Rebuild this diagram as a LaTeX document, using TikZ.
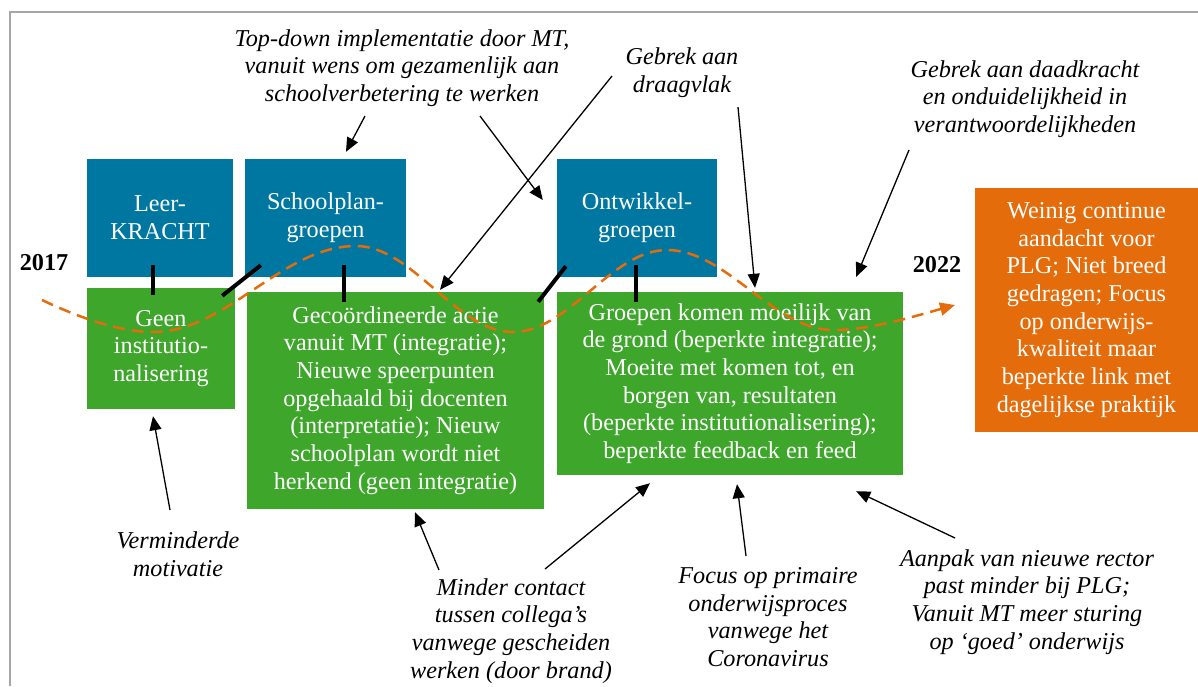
\documentclass[tikz,border=0pt]{standalone}
\usepackage{fontspec}
\setmainfont{Liberation Serif}
\usetikzlibrary{arrows.meta,calc}
\definecolor{tlblue}{HTML}{0077A1}
\definecolor{tlgreen}{HTML}{3DA62B}
\definecolor{tlorange}{HTML}{E46C0A}
\definecolor{framegray}{HTML}{A6A6A6}
\begin{document}
\begin{tikzpicture}[x=1pt,y=-1pt,
  boxtext/.style={inner sep=0pt, align=center, text=white,
    font=\fontsize{24.2}{27.7}\selectfont},
  phase/.style={boxtext, fill=tlblue},
  effect/.style={boxtext, fill=tlgreen},
  outcome/.style={boxtext, fill=tlorange},
  note/.style={inner sep=0pt, align=center,
    font=\itshape\fontsize{24.2}{27.7}\selectfont},
  year/.style={inner sep=0pt, font=\bfseries\fontsize{24.2}{27.7}\selectfont},
  link/.style={line width=4pt, black},
  cause/.style={line width=1.3pt, black, -{Triangle[length=14pt,width=12pt]}},
  wave/.style={line width=2.5pt, tlorange, dash pattern=on 12pt off 7pt,
    -{Triangle[length=15pt,width=13pt]}}
]
\useasboundingbox (0,0) rectangle (1198,686);
% frame
\draw[framegray, line width=1.8pt] (10,686) -- (10,12) -- (1198,12);

% phases
\node[phase, minimum width=146pt, minimum height=118pt] (leer) at (160,218) {Leer-\\KRACHT};
\node[phase, minimum width=161pt, minimum height=118pt] (school) at (325.5,218) {Schoolplan-\\groepen};
\node[phase, minimum width=160pt, minimum height=118pt] (ontw) at (637,218) {Ontwikkel-\\groepen};

% effects
\node[effect, minimum width=148pt, minimum height=121pt] (geen) at (161,348.5) {Geen\\institutio-\\nalisering};
\node[effect, minimum width=297pt, minimum height=217pt] (gecoord) at (395.5,400.5)
  {Gecoördineerde actie\\vanuit MT (integratie);\\Nieuwe speerpunten\\opgehaald bij docenten\\(interpretatie); Nieuw\\schoolplan wordt niet\\herkend (geen integratie)};
\node[effect, minimum width=346pt, minimum height=183pt] (groepen) at (730,383.5)
  {Groepen komen moeilijk van\\de grond (beperkte integratie);\\Moeite met komen tot, en\\borgen van, resultaten\\(beperkte institutionalisering);\\beperkte feedback en feed};

% outcome
\node[outcome, minimum width=223pt, minimum height=244pt] (weinig) at (1086.5,310)
  {Weinig continue\\aandacht voor\\PLG; Niet breed\\gedragen; Focus\\op onderwijs-\\kwaliteit maar\\beperkte link met\\dagelijkse praktijk};

% years
\node[year] (y2017) at (44,263) {2017};
\node[year] (y2022) at (937,265) {2022};

% time line
\draw[wave] (42,300) .. controls (80,318) and (120,332) .. (153,332)
  .. controls (227,332) and (282,246) .. (356,246)
  .. controls (413,246) and (456,332) .. (513,332)
  .. controls (569,332) and (611,250) .. (667,250)
  .. controls (727,250) and (773,330) .. (833,330)
  .. controls (870,330) and (912,317) .. (955,305);

% links between phases and effects
\draw[link] ([xshift=-7pt,yshift=12pt]leer.south) -- ([xshift=-8pt,yshift=-7pt]geen.north);
\draw[link] ([xshift=18.5pt,yshift=12pt]school.south) -- ([xshift=-51.5pt,yshift=-10pt]gecoord.north);
\draw[link] ([xshift=16pt,yshift=12pt]school.south west) -- ([xshift=-13pt,yshift=-8pt]geen.north east);
\draw[link] ([xshift=9pt,yshift=11pt]ontw.south west) -- ([xshift=-6pt,yshift=-10pt]gecoord.north east);
\draw[link] ([xshift=-1pt,yshift=12pt]ontw.south) -- ([xshift=-94pt,yshift=-10pt]groepen.north);

% annotations
\node[note] (topdown) at (402,68) {Top-down implementatie door MT,\\vanuit wens om gezamenlijk aan\\schoolverbetering te werken};
\node[note] (draag) at (682,73) {Gebrek aan\\draagvlak};
\node[note] (daad) at (1025,99) {Gebrek aan daadkracht\\en onduidelijkheid in\\verantwoordelijkheden};
\node[note] (motiv) at (178,554) {Verminderde\\motivatie};
\node[note] (contact) at (511,631) {Minder contact\\tussen collega’s\\vanwege gescheiden\\werken (door brand)};
\node[note] (corona) at (768,617) {Focus op primaire\\onderwijsproces\\vanwege het\\Coronavirus};
\node[note] (rector) at (1027,602) {Aanpak van nieuwe rector\\past minder bij PLG;\\Vanuit MT meer sturing\\op ‘goed’ onderwijs};

% arrow start points
\coordinate (s1) at (365,116);
\coordinate (s2) at (480,116);
\coordinate (s3) at (612,76);
\coordinate (s4) at (738,107);
\coordinate (s5) at (909,150);
\coordinate (s6) at (170,510);
\coordinate (s7) at (439,570);
\coordinate (s8) at (545,569);
\coordinate (s9) at (746,556);
\coordinate (s10) at (955,538);

\draw[cause] (s1) -- ([xshift=20.5pt,yshift=7pt]school.north);
\draw[cause] (s2) -- ([xshift=-14pt,yshift=18pt]ontw.west);
\draw[cause] (s3) -- ([xshift=44.5pt,yshift=2pt]gecoord.north);
\draw[cause] (s4) -- ([xshift=25pt,yshift=4pt]groepen.north);
\draw[cause] (s5) -- ([xshift=-47pt,yshift=15pt]groepen.north east);
\draw[cause] (s6) -- ([xshift=-8pt,yshift=-7pt]geen.south);
\draw[cause] (s7) -- ([xshift=19.5pt,yshift=-3pt]gecoord.south);
\draw[cause] (s8) -- ([xshift=-80pt,yshift=-8pt]groepen.south);
\draw[cause] (s9) -- ([xshift=7pt,yshift=-9pt]groepen.south);
\draw[cause] (s10) -- ([xshift=-47pt,yshift=-16pt]groepen.south east);
\end{tikzpicture}
\end{document}
